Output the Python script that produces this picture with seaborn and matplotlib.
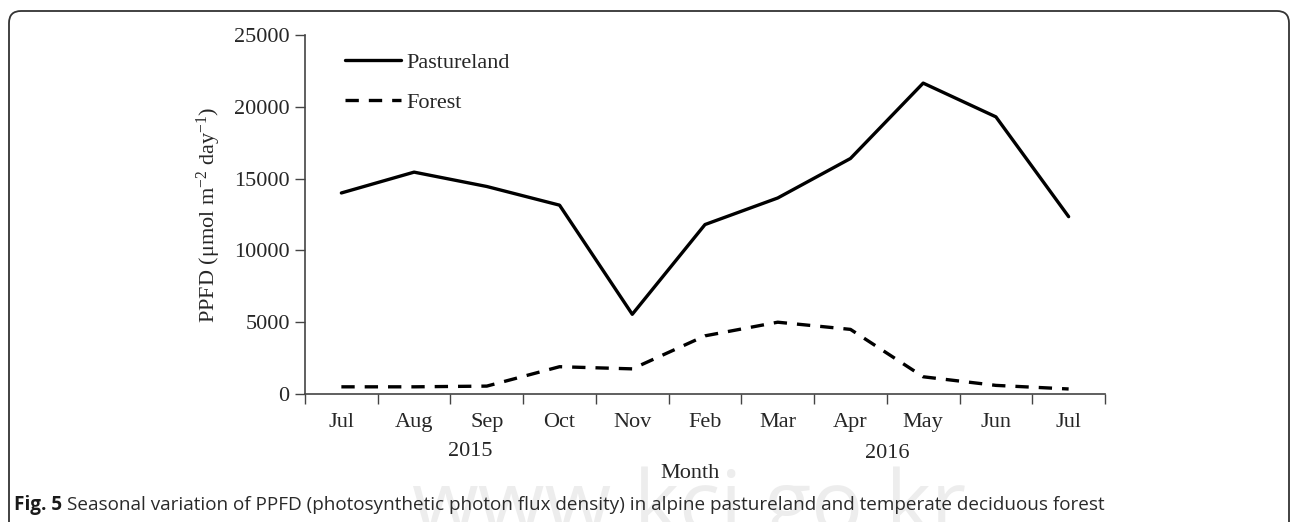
import matplotlib
matplotlib.use("Agg")
import matplotlib.pyplot as plt
import matplotlib.transforms as mtransforms
from matplotlib.patches import FancyBboxPatch
import seaborn as sns
import pandas as pd
import numpy as np

months = ["Jul", "Aug", "Sep", "Oct", "Nov", "Feb", "Mar", "Apr", "May", "Jun", "Jul"]
pastureland = [14000, 15450, 14450, 13150, 5550, 11800, 13650, 16400, 21650, 19300, 12350]
forest = [500, 500, 550, 1900, 1750, 4050, 5000, 4500, 1200, 600, 350]
year_labels = ["2015", "2016"]
yticks = [0, 5000, 10000, 15000, 20000, 25000]

sns.set_theme(style="white")
plt.rcParams['font.family'] = ['Liberation Serif', 'DejaVu Serif']
plt.rcParams['mathtext.fontset'] = 'custom'
plt.rcParams['mathtext.rm'] = 'Liberation Serif'
plt.rcParams['mathtext.it'] = 'Liberation Serif:italic'

W, H = 1292, 522
fig = plt.figure(figsize=(W / 100, H / 100), dpi=100)

# watermark (very faint, behind everything)
fig.text(690 / W, 1 - 532 / H, "www.kci.go.kr", ha="center", va="baseline",
         fontsize=62, color="#ededed", family=["Open Sans", "DejaVu Sans"], zorder=0)

ax = fig.add_axes([305 / W, 1 - 394 / H, 800 / W, (394 - 35) / H])
ax.patch.set_alpha(0)

idx = np.arange(len(months))
df = pd.DataFrame({
    "idx": np.concatenate([idx, idx]),
    "value": pastureland + forest,
    "series": ["Pastureland"] * len(months) + ["Forest"] * len(months),
})

sns.lineplot(data=df, x="idx", y="value", hue="series", style="series",
             palette={"Pastureland": "black", "Forest": "black"},
             dashes={"Pastureland": "", "Forest": (4, 3)},
             linewidth=2.4, ax=ax, legend=True)

ax.set_xlim(-0.5, len(months) - 0.5)
ax.set_ylim(0, 25000)
ax.set_yticks(yticks)
ax.set_yticklabels([str(v) for v in yticks], fontsize=16)
# ticks between categories, labels at category centres
ax.set_xticks(np.arange(-0.5, len(months), 1.0))
ax.set_xticklabels([])
ax.set_xticks(idx, minor=True)
ax.set_xticklabels(months, minor=True, fontsize=16)
ax.tick_params(axis="x", which="major", direction="out", length=7, width=1, color="#444444")
ax.tick_params(axis="x", which="minor", length=0, pad=14)
ax.tick_params(axis="y", direction="out", length=7, width=1, color="#444444", pad=4)
ax.yaxis.set_ticks_position("left")
ax.xaxis.set_ticks_position("bottom")

for s in ["top", "right"]:
    ax.spines[s].set_visible(False)
for s in ["left", "bottom"]:
    ax.spines[s].set_color("#444444")
    ax.spines[s].set_linewidth(1.2)

ax.set_xlabel("")
ax.set_ylabel("PPFD (μmol m$^{-2}$ day$^{-1}$)", fontsize=16, labelpad=8)

leg = ax.legend(loc="upper left", bbox_to_anchor=(345 / W, 1 - 52 / H),
                bbox_transform=fig.transFigure, frameon=False, fontsize=16,
                handlelength=2.5, handletextpad=0.25, labelspacing=0.9,
                borderpad=0, borderaxespad=0)
for line in leg.get_lines():
    line.set_linewidth(2.4)

fig.text(470 / W, 1 - 452 / H, year_labels[0], ha="center", va="center", fontsize=16)
fig.text(887 / W, 1 - 453 / H, year_labels[1], ha="center", va="center", fontsize=16)
fig.text(690 / W, 1 - 473 / H, "Month", ha="center", va="center", fontsize=16)

# caption
cap1 = fig.text(14 / W, 1 - 505 / H, "Fig. 5", ha="left", va="center", fontsize=13.6,
                fontweight="bold", family=["Open Sans", "DejaVu Sans"], color="#1a1a1a")
fig.canvas.draw()
bb = cap1.get_window_extent()
fig.text((bb.x1 + 5) / W, 1 - 505 / H,
         "Seasonal variation of PPFD (photosynthetic photon flux density) in alpine pastureland and temperate deciduous forest",
         ha="left", va="center", fontsize=13.6, family=["Open Sans", "DejaVu Sans"], color="#2a2a2a")

# rounded border
border = FancyBboxPatch((9, -20), 1289 - 9, H - 11 + 20,
                        boxstyle="round,pad=0,rounding_size=12",
                        transform=mtransforms.IdentityTransform(),
                        fill=False, edgecolor="#333333", linewidth=1.3)
fig.patches.append(border)

fig.savefig("out.png", dpi=100)
